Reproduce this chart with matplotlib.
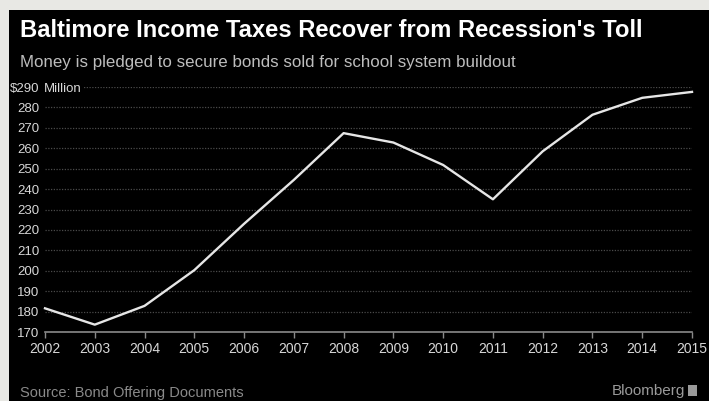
import matplotlib
matplotlib.use("Agg")
import matplotlib.pyplot as plt
from matplotlib.patches import Rectangle

years = [2002, 2003, 2004, 2005, 2006, 2007, 2008, 2009, 2010, 2011, 2012, 2013, 2014, 2015]
revenue = [181.6, 173.6, 182.8, 200.3, 223.0, 244.5, 267.4, 262.8, 251.8, 235.0, 258.5, 276.4, 284.7, 287.6]
yticks = [170, 180, 190, 200, 210, 220, 230, 240, 250, 260, 270, 280, 290]
ytick_labels = ["170", "180", "190", "200", "210", "220", "230", "240", "250", "260", "270", "280", "$290"]

title = "Baltimore Income Taxes Recover from Recession's Toll"
subtitle = "Money is pledged to secure bonds sold for school system buildout"
source = "Source: Bond Offering Documents"

plt.rcParams["font.family"] = ["Liberation Sans", "DejaVu Sans"]

W, H = 709, 401
fig = plt.figure(figsize=(W / 100, H / 100), dpi=100, facecolor="#e8e8e4")
fig.patches.append(Rectangle((9 / W, 0), 1 - 9 / W, 1 - 10 / H, transform=fig.transFigure,
                             facecolor="black", edgecolor="none", zorder=-10))

ax = fig.add_axes([45 / W, 1 - 332 / H, (692 - 45) / W, (332 - 87) / H])
ax.set_facecolor("black")
ax.plot(years, revenue, color="#e6e6e6", lw=1.7, solid_joinstyle="round", zorder=3, clip_on=False)
ax.set_xlim(2002, 2015)
ax.set_ylim(170, 290)
ax.set_yticks(yticks)
ax.set_yticklabels(ytick_labels)
ax.set_xticks(years)
ax.set_xticklabels([str(y) for y in years])
for s in ["top", "right", "left"]:
    ax.spines[s].set_visible(False)
ax.spines["bottom"].set_color("#8a8a8a")
ax.spines["bottom"].set_linewidth(1.2)
ax.tick_params(axis="y", length=0, pad=4, labelcolor="#d8d8d8", labelsize=9.5)
ax.tick_params(axis="x", length=4, width=1, color="#8a8a8a", pad=3, labelcolor="#d8d8d8", labelsize=10)
ax.yaxis.grid(True, color="#4a4a4a", linestyle=(0, (1, 1.2)), linewidth=0.9)
ax.set_axisbelow(True)
ax.text(2001.985, 290, "Million", color="#d8d8d8", fontsize=9.5, va="center_baseline", ha="left",
        bbox=dict(facecolor="black", edgecolor="none", pad=1.5), zorder=2)

fig.text(20 / W, 1 - 37 / H, title, color="white", fontsize=17.1, fontweight="bold", va="baseline")
fig.text(20 / W, 1 - 66.5 / H, subtitle, color="#bdbdbd", fontsize=12.2, va="baseline")
fig.text(20 / W, 1 - 397 / H, source, color="#8a8a8a", fontsize=10.5, va="baseline")
fig.text(685 / W, 1 - 395 / H, "Bloomberg", color="#9a9a9a", fontsize=11, va="baseline", ha="right")
fig.patches.append(Rectangle((688 / W, 1 - 396 / H), 9 / W, 11 / H, transform=fig.transFigure,
                             facecolor="#9a9a9a", edgecolor="none", zorder=1))

fig.savefig("out.png", dpi=100, facecolor=fig.get_facecolor())
